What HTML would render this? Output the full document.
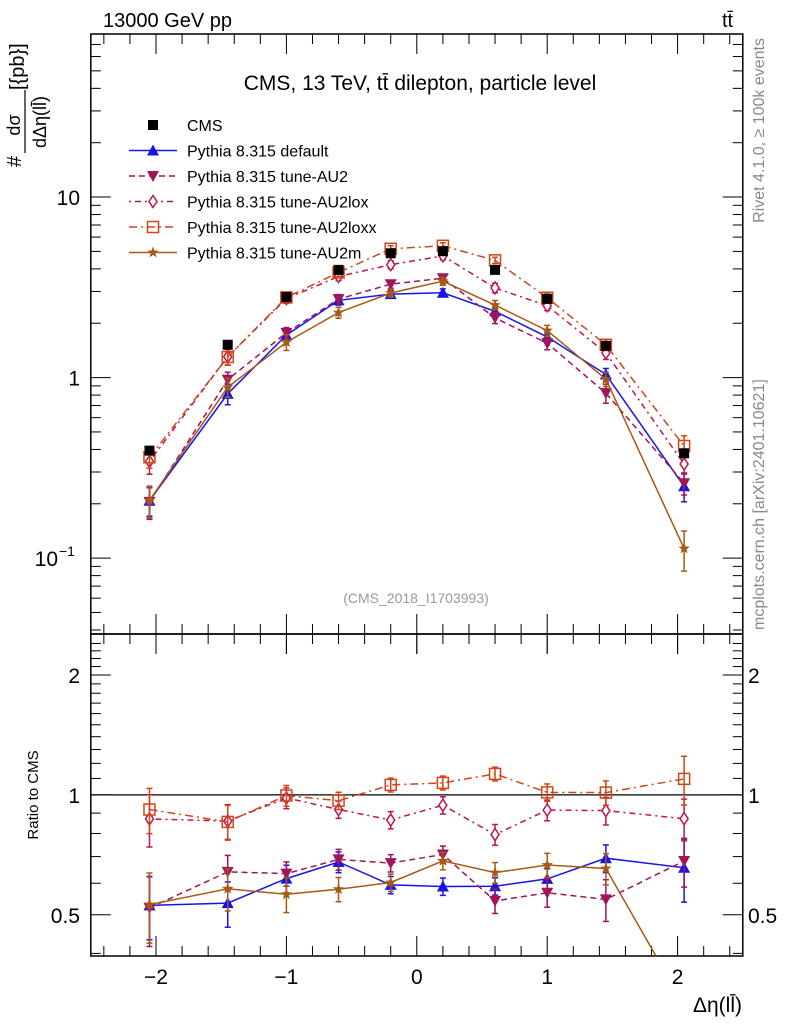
<!DOCTYPE html>
<html><head><meta charset="utf-8"><style>
body{margin:0;background:#fff;}
svg{display:block;font-family:"Liberation Sans",sans-serif;}
</style></head><body>
<svg id="chart" width="786" height="1024" viewBox="0 0 786 1024" xmlns="http://www.w3.org/2000/svg">
<text x="103" y="27" font-size="20">13000 GeV pp</text>
<text x="722" y="27" font-size="20">tt̄</text>
<text x="420" y="90" font-size="21" text-anchor="middle">CMS, 13 TeV, tt̄ dilepton, particle level</text>
<text x="416" y="603" font-size="14" fill="#999" text-anchor="middle">(CMS_2018_I1703993)</text>
<text transform="translate(764,38) rotate(-90)" font-size="16" fill="#888" text-anchor="end">Rivet 4.1.0, ≥ 100k events</text>
<text transform="translate(764,630) rotate(-90)" font-size="16" fill="#888">mcplots.cern.ch [arXiv:2401.10621]</text>
<g transform="translate(0,167) rotate(-90)">
<text x="0" y="21" font-size="20">#</text>
<text x="42" y="20" font-size="18" text-anchor="middle">dσ</text>
<line x1="14" y1="25" x2="77" y2="25" stroke="#000" stroke-width="1.2"/>
<text x="45" y="46" font-size="18" text-anchor="middle">dΔη(ll̄)</text>
<text x="77" y="24" font-size="20">[{pb}]</text>
</g>
<text transform="translate(38,795) rotate(-90)" font-size="15" text-anchor="middle">Ratio to CMS</text>
<text x="742" y="1012" font-size="21" text-anchor="end">Δη(ll̄)</text>
<g id="axes"></g>
<g id="marks"></g>
<g id="legend"></g>
</svg>
<script>
const xCenters = [-2.05, -1.45, -1.0, -0.6, -0.2, 0.2, 0.6, 1.0, 1.45, 2.05];
const cmsValues = [0.394, 1.52, 2.79, 3.95, 4.88, 5.01, 3.95, 2.73, 1.50, 0.381];
const cmsErrors = [0.03, 0.02, 0.02, 0.02, 0.02, 0.02, 0.02, 0.02, 0.02, 0.03];
const defaultValues = [0.208, 0.813, 1.72, 2.68, 2.90, 2.95, 2.33, 1.68, 1.04, 0.250];
const au2Values = [0.205, 0.974, 1.77, 2.72, 3.29, 3.55, 2.14, 1.55, 0.82, 0.260];
const au2loxValues = [0.343, 1.306, 2.74, 3.63, 4.22, 4.72, 3.14, 2.50, 1.37, 0.332];
const au2loxxValues = [0.362, 1.30, 2.78, 3.82, 5.17, 5.37, 4.46, 2.77, 1.52, 0.418];
const au2mValues = [0.209, 0.883, 1.57, 2.29, 2.94, 3.42, 2.52, 1.82, 0.98, 0.113];
const defaultErr = [0.18, 0.13, 0.08, 0.06, 0.05, 0.05, 0.05, 0.06, 0.08, 0.18];
const au2Err = [0.20, 0.10, 0.07, 0.06, 0.05, 0.05, 0.07, 0.08, 0.12, 0.14];
const au2loxErr = [0.15, 0.10, 0.06, 0.05, 0.05, 0.05, 0.06, 0.06, 0.08, 0.12];
const au2loxxErr = [0.13, 0.10, 0.06, 0.05, 0.04, 0.04, 0.04, 0.05, 0.07, 0.14];
const au2mErr = [0.20, 0.12, 0.10, 0.07, 0.05, 0.05, 0.06, 0.07, 0.09, 0.25];
const xTickLabels = ["−2", "−1", "0", "1", "2"];
const xTickValues = [-2, -1, 0, 1, 2];
const ratioTickValues = [0.5, 1, 2];
const ratioTickLabels = ["0.5", "1", "2"];

const NS = "http://www.w3.org/2000/svg";
const L = 90.8, R = 742.8, MT = 34, MB = 634, RT = 634, RB = 956;
const xMin = -2.5, xMax = 2.5;
const yMinLog = Math.log10(0.038), yMaxLog = Math.log10(80);
const rMinLog = Math.log10(0.394), rMaxLog = Math.log10(2.535);
function xs(v){ return L + (v - xMin) / (xMax - xMin) * (R - L); }
function ys(v){ return MB - (Math.log10(v) - yMinLog) / (yMaxLog - yMinLog) * (MB - MT); }
function rs(v){ return RB - (Math.log10(v) - rMinLog) / (rMaxLog - rMinLog) * (RB - RT); }
function mk(tag, attrs, parent){ const e = document.createElementNS(NS, tag); for (const k in attrs) e.setAttribute(k, attrs[k]); parent.appendChild(e); return e; }

const axes = document.getElementById('axes');
const marks = document.getElementById('marks');
const legend = document.getElementById('legend');

let f1 = mk('rect', {x:L, y:MT, width:R-L, height:MB-MT, fill:'none', stroke:'#000', 'stroke-width':1.5}, axes);


let f2 = mk('rect', {x:L, y:RT, width:R-L, height:RB-RT, fill:'none', stroke:'#000', 'stroke-width':1.5}, axes);



for (let i = -12; i <= 12; i++) {
  const v = i * 0.2; const x = xs(v); const major = Math.abs(v - Math.round(v)) < 1e-6;
  const len = major ? 20 : 10;
  [[MB, -1], [MT, 1], [RB, -1], [RT, 1]].forEach(([y, d]) => {
    mk('line', {x1:x, y1:y, x2:x, y2:y + d*len, stroke:'#000', 'stroke-width':1}, axes);
  });
  if (major) mk('line', {x1:x, y1:MB, x2:x, y2:MB+20, stroke:'#000', 'stroke-width':1}, axes);
}
xTickValues.forEach((v, i) => {
  const t = mk('text', {x:xs(v), y:RB+28, 'font-size':21, 'text-anchor':'middle'}, axes);
  t.textContent = xTickLabels[i];
  
  
});
for (let d = -2; d <= 1; d++) {
  for (let m = 1; m <= 9; m++) {
    const v = m * Math.pow(10, d); if (v < 0.038 || v > 80) continue;
    const y = ys(v); const len = m === 1 ? 20 : 10;
    mk('line', {x1:L, y1:y, x2:L+len, y2:y, stroke:'#000'}, axes);
    mk('line', {x1:R, y1:y, x2:R-len, y2:y, stroke:'#000'}, axes);
  }
}
[[10,'10'],[1,'1']].forEach(([v, s]) => {
  const t = mk('text', {x:80, y:ys(v)+8, 'font-size':21, 'text-anchor':'end'}, axes);
  t.textContent = s;
  
  
});
{
  const t = mk('text', {x:58, y:ys(0.1)+8, 'font-size':21, 'text-anchor':'end'}, axes);
  t.textContent = '10';
  
  
  const e = mk('text', {x:59, y:ys(0.1)-2, 'font-size':14}, axes);
  e.textContent = '−1';
  
  
}
for (let v = 0.4; v <= 2.5; v += 0.1) {
  const vv = Math.round(v*10)/10; const y = rs(vv);
  const len = (vv === 0.5 || vv === 1 || vv === 2) ? 20 : 10;
  mk('line', {x1:L, y1:y, x2:L+len, y2:y, stroke:'#000'}, axes);
  mk('line', {x1:R, y1:y, x2:R-len, y2:y, stroke:'#000'}, axes);
}
ratioTickValues.forEach((v, i) => {
  const t1 = mk('text', {x:80, y:rs(v)+8, 'font-size':21, 'text-anchor':'end'}, axes);
  t1.textContent = ratioTickLabels[i];
  
  
  const t2 = mk('text', {x:748, y:rs(v)+8, 'font-size':21}, axes);
  t2.textContent = ratioTickLabels[i];
  
  
});
const unity = mk('line', {x1:L, y1:rs(1), x2:R, y2:rs(1), stroke:'#000', 'stroke-width':1.2}, axes);



function marker(type, x, y, color, parent){
  let e;
  if (type === 'square') e = mk('rect', {x:x-5, y:y-5, width:10, height:10, fill:'#000'}, parent);
  else if (type === 'up') e = mk('polygon', {points:`${x},${y-6} ${x-6},${y+5} ${x+6},${y+5}`, fill:color}, parent);
  else if (type === 'down') e = mk('polygon', {points:`${x},${y+6} ${x-6},${y-5} ${x+6},${y-5}`, fill:color}, parent);
  else if (type === 'diamond') e = mk('polygon', {points:`${x},${y-6} ${x-4},${y} ${x},${y+6} ${x+4},${y}`, fill:'#fff', stroke:color, 'stroke-width':1.5}, parent);
  else if (type === 'osquare') e = mk('rect', {x:x-5.5, y:y-5.5, width:11, height:11, fill:'none', stroke:color, 'stroke-width':1.5}, parent);
  else if (type === 'star') {
    let p = [];
    for (let k = 0; k < 10; k++) { const a = -Math.PI/2 + k*Math.PI/5; const r = k%2 ? 2.5 : 6; p.push((x + r*Math.cos(a)).toFixed(1) + ',' + (y + r*Math.sin(a)).toFixed(1)); }
    e = mk('polygon', {points:p.join(' '), fill:color}, parent);
  }
  return e;
}

const series = [
  {name:'default', label:'Pythia 8.315 default', vals:defaultValues, err:defaultErr, color:'#1515e8', dash:'', m:'up'},
  {name:'au2', label:'Pythia 8.315 tune-AU2', vals:au2Values, err:au2Err, color:'#a0145a', dash:'6,4', m:'down'},
  {name:'au2lox', label:'Pythia 8.315 tune-AU2lox', vals:au2loxValues, err:au2loxErr, color:'#c0144a', dash:'2,4,6,4', m:'diamond'},
  {name:'au2loxx', label:'Pythia 8.315 tune-AU2loxx', vals:au2loxxValues, err:au2loxxErr, color:'#d0461a', dash:'8,4,2,4', m:'osquare'},
  {name:'au2m', label:'Pythia 8.315 tune-AU2m', vals:au2mValues, err:au2mErr, color:'#a85a14', dash:'', m:'star'}
];

const defs = mk('defs', {}, marks);
const cp = mk('clipPath', {id:'rclip'}, defs);
mk('rect', {x:L, y:RT, width:R-L, height:RB-RT}, cp);

series.forEach(s => {
  const g = mk('g', {}, marks);
  
  
  const pts = xCenters.map((x, i) => xs(x).toFixed(1) + ',' + ys(s.vals[i]).toFixed(1)).join(' ');
  const ln = mk('polyline', {points:pts, fill:'none', stroke:s.color, 'stroke-width':1.5, 'stroke-dasharray':s.dash}, g);
  
  
  const rg = mk('g', {'clip-path':'url(#rclip)'}, g);
  const rpts = xCenters.map((x, i) => xs(x).toFixed(1) + ',' + rs(s.vals[i] / cmsValues[i]).toFixed(1)).join(' ');
  const rl = mk('polyline', {points:rpts, fill:'none', stroke:s.color, 'stroke-width':1.5, 'stroke-dasharray':s.dash}, rg);
  
  
  xCenters.forEach((xv, i) => {
    const x = xs(xv), v = s.vals[i], e = s.err[i];
    const y1 = ys(v*(1+e)), y2 = ys(v*(1-e));
    mk('line', {x1:x, y1:y1, x2:x, y2:y2, stroke:s.color, 'stroke-width':1.5}, g);
    mk('line', {x1:x-3, y1:y1, x2:x+3, y2:y1, stroke:s.color, 'stroke-width':1.5}, g);
    mk('line', {x1:x-3, y1:y2, x2:x+3, y2:y2, stroke:s.color, 'stroke-width':1.5}, g);
    const pm = marker(s.m, x, ys(v), s.color, g);
    
    
    const r = v / cmsValues[i];
    const ry1 = rs(r*(1+e)), ry2 = rs(r*(1-e));
    mk('line', {x1:x, y1:ry1, x2:x, y2:ry2, stroke:s.color, 'stroke-width':1.5}, rg);
    mk('line', {x1:x-3, y1:ry1, x2:x+3, y2:ry1, stroke:s.color, 'stroke-width':1.5}, rg);
    mk('line', {x1:x-3, y1:ry2, x2:x+3, y2:ry2, stroke:s.color, 'stroke-width':1.5}, rg);
    const rm = marker(s.m, x, rs(r), s.color, rg);
    
    
  });
});
{
  const g = mk('g', {}, marks);
  
  
  xCenters.forEach((xv, i) => {
    const x = xs(xv), v = cmsValues[i], e = cmsErrors[i];
    mk('line', {x1:x, y1:ys(v*(1+e)), x2:x, y2:ys(v*(1-e)), stroke:'#000', 'stroke-width':1.5}, g);
    const m = marker('square', x, ys(v), '#000', g);
    
    
  });
}
const legendRows = [{label:'CMS', m:'square', color:'#000', dash:null}].concat(series.map(s => ({label:s.label, m:s.m, color:s.color, dash:s.dash})));
legendRows.forEach((r, i) => {
  const y = 125 + i * 25.5;
  const g = mk('g', {}, legend);
  
  
  if (r.dash !== null) mk('line', {x1:129, y1:y, x2:177, y2:y, stroke:r.color, 'stroke-width':1.5, 'stroke-dasharray':r.dash}, g);
  marker(r.m, 153, y, r.color, g);
  const t = mk('text', {x:187, y:y+6, 'font-size':16}, g);
  t.textContent = r.label;
});
</script>
</body></html>
